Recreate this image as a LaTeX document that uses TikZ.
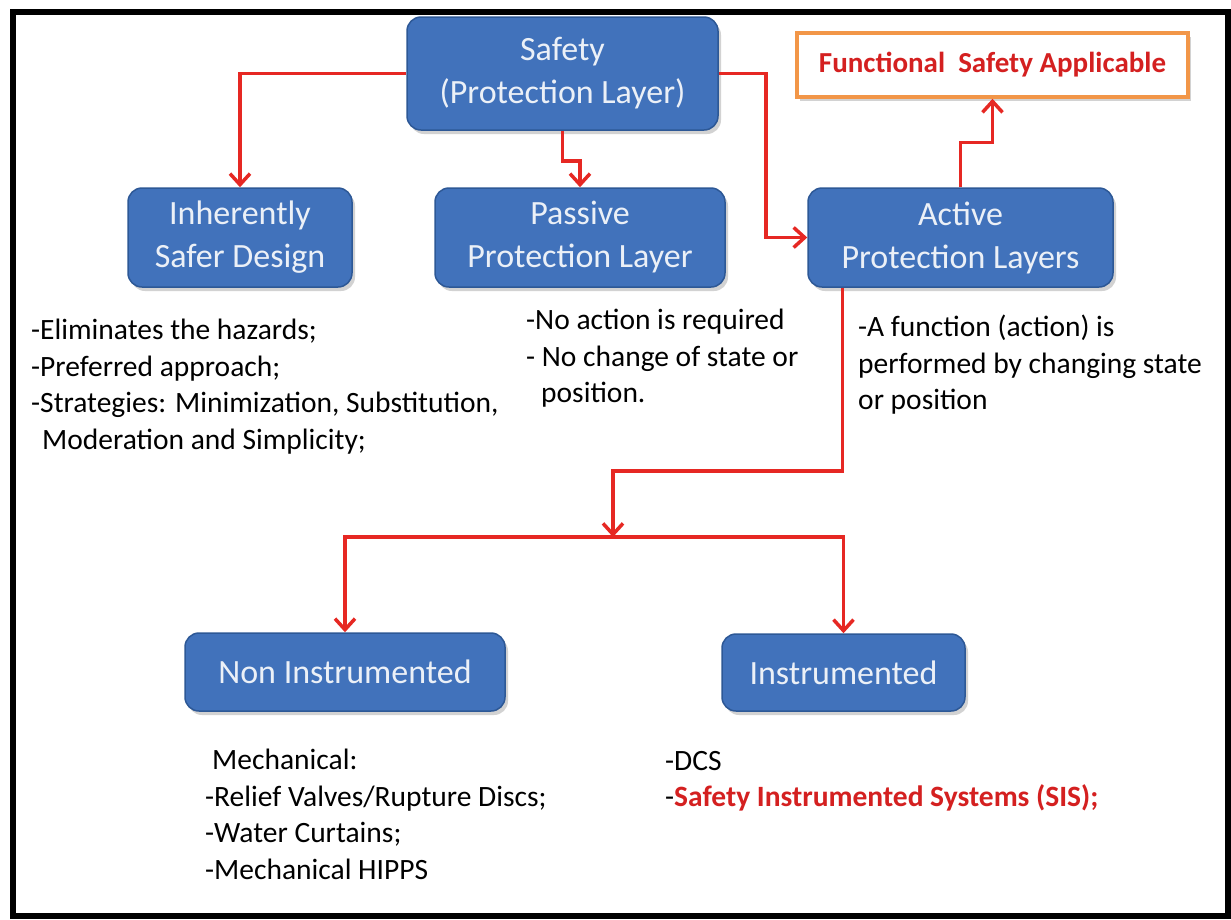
\documentclass[tikz,border=0pt]{standalone}
\usepackage{fontspec}
\setmainfont{Carlito}
\usetikzlibrary{arrows.meta,positioning,shadows}
\definecolor{boxblue}{RGB}{65,114,187}
\definecolor{boxedge}{RGB}{45,88,150}
\definecolor{boxtext}{RGB}{235,240,247}
\definecolor{linkred}{RGB}{230,40,35}
\definecolor{fsaorange}{RGB}{242,150,72}
\definecolor{fsared}{RGB}{212,32,32}

\begin{document}
\begin{tikzpicture}[
		x=1pt, y=-1pt,
		box/.style={draw=boxedge, line width=1.5pt, fill=boxblue, rounded corners=14pt,
			text=boxtext, align=center, inner sep=0pt, font=\fontsize{34}{43}\selectfont,
			drop shadow={shadow xshift=3pt, shadow yshift=-4pt, opacity=0.35}},
		note/.style={anchor=north west, align=left, inner sep=0pt, text=black,
			font=\fontsize{29.5}{36.5}\selectfont},
		link/.style={draw=linkred, line width=3.5pt, -{Straight Barb[length=11pt,width=20pt]}}
	]
	\useasboundingbox (0,0) rectangle (1231,919);
	\fill[white] (0,0) rectangle (1231,919);
	\draw[line width=6pt] (13,12) rectangle (1228,916);

	\node [box, minimum width=311pt, minimum height=113pt] (safety)   at (562.5,73.5) {Safety\\(Protection Layer)};
	\node [box, minimum width=224pt, minimum height=99pt]  (inherent) at (240,237.5)  {Inherently\\Safer Design};
	\node [box, minimum width=290pt, minimum height=99pt]  (passive)  at (580,237.5)  {Passive\\Protection Layer};
	\node [box, minimum width=305pt, minimum height=99pt]  (active)   at (960.5,237.5) {Active\\Protection Layers};
	\node [box, minimum width=320pt, minimum height=78pt]  (noninst)  at (345,672)    {Non Instrumented};
	\node [box, minimum width=243pt, minimum height=77pt]  (inst)     at (843.5,672.5) {Instrumented};
	\node [draw=fsaorange, line width=3.5pt, fill=white, minimum width=391pt, minimum height=64pt,
		text=fsared, font=\fontsize{29}{34}\selectfont\bfseries,
		drop shadow={shadow xshift=3pt, shadow yshift=-4pt, opacity=0.35}] (fsa) at (992.5,65) {Functional\ \ Safety Applicable};

	\node [note] (inherentnote) at (31,319)  {-Eliminates the hazards;\\-Preferred approach;\\-Strategies: Minimization, Substitution,\\\hspace*{11pt}Moderation and Simplicity;};
	\node [note] (passivenote)  at (526,309) {-No action is required\\- No change of state or\\\hspace*{15pt}position.};
	\node [note] (activenote)   at (858,315) {-A function (action) is\\performed by changing state\\or position};
	\node [note] (noninstnote)  at (205,749) {\hspace*{7pt}Mechanical:\\-Relief Valves/Rupture Discs;\\-Water Curtains;\\-Mechanical HIPPS};
	\node [note] (instnote)     at (665,751) {-DCS\\-\textcolor{fsared}{\bfseries Safety Instrumented Systems (SIS);}};

	\coordinate (split) at (613,537);

	\draw [link] (safety.west) -| (inherent.north);
	\draw [link] (safety.south) -- ++(0,30) -| (passive.north);
	\draw [link] (safety.east) -- ++(47,0) |- (active.west);
	\draw [link] (active.north) -- ++(0,-45) -| (fsa.south);
	\draw [link] ([xshift=35pt]active.south west) -- ++(0,183) -| (split);
	\draw [link] (split) -| (noninst.north);
	\draw [link] (split) -| (inst.north);
\end{tikzpicture}
\end{document}
